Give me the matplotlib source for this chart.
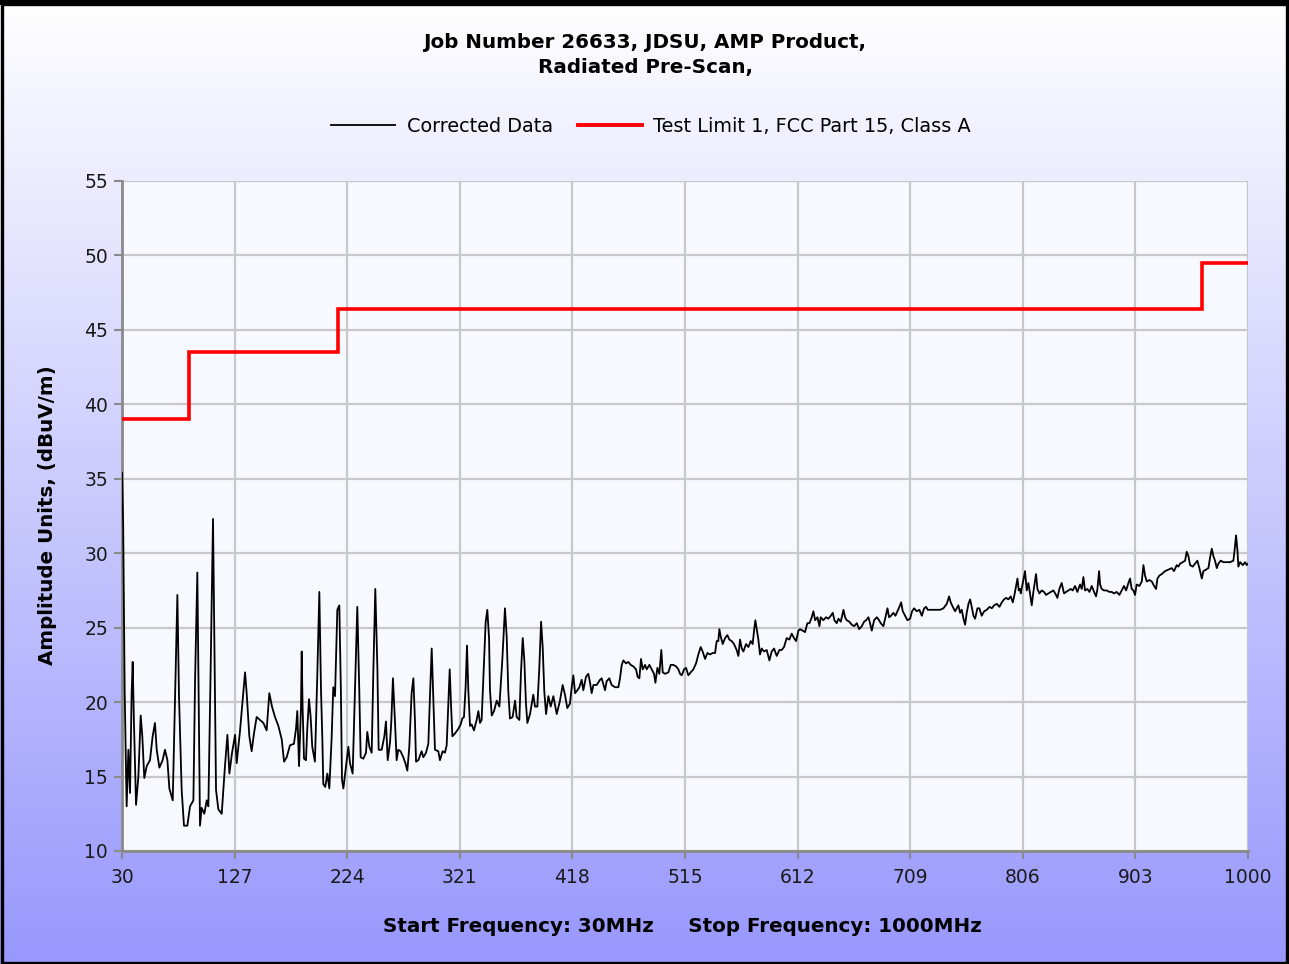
import numpy as np
import matplotlib
matplotlib.use("Agg")
import matplotlib.pyplot as plt
from matplotlib.colors import LinearSegmentedColormap
from matplotlib.lines import Line2D
from matplotlib.patches import Rectangle

# ---------------- data ----------------
title_lines = ["Job Number 26633, JDSU, AMP Product,", "Radiated Pre-Scan,"]
series_names = ["Corrected Data", "Test Limit 1, FCC Part 15, Class A"]
y_label = "Amplitude Units, (dBuV/m)"
x_label = "Start Frequency: 30MHz     Stop Frequency: 1000MHz"
x_ticks = [30, 127, 224, 321, 418, 515, 612, 709, 806, 903, 1000]
y_ticks = [10, 15, 20, 25, 30, 35, 40, 45, 50, 55]

freq = [
    30.0, 31.0, 32.3, 34.0, 35.5, 36.9, 38.3, 39.2, 40.3, 42.1, 44.1, 46.1, 47.5, 49.2,
    51.3, 54.1, 56.4, 58.4, 59.9, 62.2, 65.0, 67.0, 69.1, 70.8, 73.7, 75.7, 77.7, 79.1,
    80.5, 81.4, 83.4, 86.3, 88.6, 91.5, 92.9, 94.9, 96.1, 97.2, 98.6, 100.9, 103.0, 104.4,
    106.4, 108.4, 109.8, 111.0, 113.0, 115.9, 118.7, 120.8, 122.5, 124.8, 127.4, 128.8,
    131.7, 134.5, 136.0, 137.4, 139.7, 141.7, 143.7, 146.0, 148.9, 151.8, 154.6, 156.9,
    159.2, 161.8, 164.7, 167.6, 169.6, 171.9,
    174.7, 178.1, 179.9, 181.0, 182.5, 184.2, 184.8, 185.6, 186.8, 188.5, 189.6, 191.1,
    192.5, 193.9, 196.2, 198.2, 200.0, 201.4, 202.6, 203.4, 205.1, 206.9, 208.6, 210.6,
    212.0, 213.5, 215.5, 217.2, 218.6, 219.5, 220.7, 223.0, 225.0, 226.4, 228.7, 230.7,
    232.7, 234.4, 235.6, 237.9, 240.2, 241.3, 243.1, 245.1, 246.5, 248.2, 250.0, 251.1,
    253.7, 256.0, 257.4, 258.9, 260.9, 262.0, 263.4, 265.2, 266.6, 268.0, 270.0, 272.3,
    274.1, 275.8, 277.5, 279.5, 281.0, 282.4, 283.3, 285.3, 288.1, 289.6, 291.9, 293.9,
    295.3, 296.8, 298.2, 299.6, 302.5, 303.9, 306.2, 308.2, 309.7, 311.1, 312.3, 313.4,
    314.6, 316.9, 319.7, 321.7, 323.2, 324.6, 326.0, 327.2, 328.3, 329.8, 331.2, 333.2,
    335.5, 337.0, 338.4, 339.8, 341.3, 343.3, 344.7, 346.2, 347.0, 348.5, 350.5, 352.8,
    355.1, 357.6, 359.9, 361.4, 362.8, 364.2, 366.5, 368.6, 370.0, 372.3, 373.7, 375.2,
    376.6, 378.0, 379.2, 381.5, 384.3, 385.8, 387.8, 389.5, 391.0, 392.4, 393.8, 395.3,
    397.3, 399.3, 401.6, 404.5, 407.3,
    409.6, 411.6, 413.6, 415.9, 417.4, 418.8, 420.3, 422.3, 424.0, 426.0, 427.4, 429.7,
    431.7, 433.2, 434.6, 436.1, 438.9, 441.8, 443.2, 446.1, 447.5, 449.8, 451.8, 454.7,
    457.6, 459.0, 460.5, 461.9, 464.2, 466.2, 468.2, 470.5, 472.8, 474.2, 475.7, 477.1,
    478.6, 480.6, 482.0, 484.3, 486.3, 488.3, 489.5, 491.2, 492.9, 494.6, 495.8, 497.8,
    500.7, 502.7, 505.0, 507.3, 509.3, 510.7, 512.2, 514.2, 515.9, 517.9, 519.9, 522.2,
    524.5, 526.5, 528.5, 530.2, 532.3, 534.3, 536.6, 538.9, 540.9, 542.3, 543.7, 544.6,
    545.8, 547.5, 549.5, 551.5, 553.2, 555.2, 557.2, 559.5, 561.0, 562.4, 563.9, 565.3,
    567.6, 569.6, 571.6, 573.3, 574.5, 575.6, 576.8, 578.2, 579.6, 581.1, 583.1, 585.4,
    587.7, 589.7, 591.7, 594.0, 596.3, 598.3, 600.3, 602.6, 604.9, 606.9, 608.9, 610.7,
    612.7, 614.1,
    616.4, 618.4, 620.4, 622.2, 624.2, 625.6, 627.1, 629.1, 630.8, 631.9, 634.2, 636.5,
    638.5, 640.6, 642.3, 643.7, 645.7, 647.2, 649.2, 651.5, 652.9, 654.3, 656.6, 658.6,
    660.7, 663.0, 665.0, 667.3, 669.3, 671.0, 673.0, 674.4, 675.9, 677.9, 680.2, 682.2,
    683.6, 685.9, 687.7, 689.4, 690.8, 692.5, 694.5, 696.3, 698.0, 699.7, 701.2, 702.6,
    704.6, 706.6, 708.9, 710.6, 712.4, 714.6, 716.9, 719.0, 721.0, 722.7, 724.1, 726.1,
    729.0, 731.9, 734.8, 737.6, 740.5, 742.5, 743.9, 745.7, 747.7, 749.1, 750.5, 752.0,
    753.4, 754.9, 756.3, 757.7, 759.2, 760.6, 762.0, 763.5, 764.9, 766.9, 768.6, 770.6,
    772.7, 775.0, 777.3, 779.3, 781.3, 783.6, 785.9, 787.9, 789.9, 791.6, 793.6, 795.6,
    797.4, 798.8, 800.2, 801.4, 802.5, 803.7,
    804.2, 806.5, 807.9, 809.4, 810.8, 812.2, 813.7, 815.1, 816.6, 817.4, 818.6, 820.3,
    822.3, 824.3, 826.0, 828.0, 830.1, 832.4, 834.6, 835.8, 837.5, 839.5, 841.5, 843.3,
    845.3, 847.3, 849.0, 851.0, 853.0, 855.3, 856.8, 858.2, 859.6, 861.6, 863.4, 865.4,
    867.4, 869.1, 870.3, 871.7, 872.6, 874.0, 876.0, 878.3, 880.6, 882.6, 884.6, 886.9,
    889.2, 891.2, 893.2, 895.0, 897.0, 898.4, 899.8, 901.3, 902.7, 904.1, 906.4, 908.5,
    909.9, 911.3, 912.8, 915.1, 917.1, 919.1, 920.8, 922.0, 923.7, 925.7, 928.6, 931.4,
    934.3, 936.3, 938.6, 940.0, 941.5, 943.8, 945.8, 947.2, 948.7, 950.1, 952.4, 954.4,
    956.4, 958.1, 960.2, 961.6, 963.9, 965.9, 967.3, 968.8, 970.2, 971.6, 973.1, 974.5,
    976.5, 978.8, 981.7, 984.6, 987.4, 988.6, 989.7, 990.9, 991.7, 993.2, 995.5, 997.5,
    998.9, 1000.0,
]

amplitude = [
    35.4, 32.0, 20.7, 13.0, 16.8, 13.9, 20.6, 22.7, 18.6, 13.1, 15.0, 19.1, 17.7, 14.9,
    15.7, 16.1, 17.7, 18.6, 16.8, 15.6, 16.1, 16.8, 16.1, 14.2, 13.4, 20.4, 27.2, 20.4,
    16.6, 14.1, 11.7, 11.7, 13.0, 13.4, 21.3, 28.7, 20.1, 11.7, 12.9, 12.5, 13.4, 13.0,
    22.4, 32.3, 22.5, 14.1, 12.8, 12.5, 15.7, 17.8, 15.2, 16.6, 17.8, 15.9,
    18.1, 20.6, 22.0, 20.6, 17.7, 16.7, 17.9, 19.0, 18.8, 18.6, 18.1, 20.6,
    19.7, 19.0, 18.4, 17.5, 16.0, 16.3,
    17.1, 17.2, 18.2, 19.4, 15.7, 19.7, 23.4, 19.6, 16.2, 16.1, 18.2, 20.2,
    19.0, 17.0, 16.0, 21.7, 27.4, 20.9, 17.5, 14.5, 14.3, 15.2, 14.2, 17.6,
    21.0, 20.4, 26.2, 26.5, 20.6, 14.8, 14.2, 15.7, 17.0, 15.9, 15.2, 20.9,
    26.4, 20.8, 16.3, 16.2, 16.6, 18.0, 17.0, 16.6, 22.0, 27.6, 22.3, 16.8,
    16.8, 17.7, 18.7, 16.1, 17.3, 18.7, 21.6, 18.6, 16.1, 16.8, 16.7, 16.3,
    15.9, 15.4, 17.0, 20.6, 21.6, 18.7, 16.0, 16.1, 16.7, 16.3, 16.6, 17.2,
    20.4, 23.6, 20.1, 16.8, 16.7, 16.1, 16.7, 16.6, 17.1, 19.9, 22.2, 19.9,
    17.7, 17.9, 18.2, 18.5, 18.9, 19.0, 21.0, 23.8, 20.9, 18.4, 18.5, 18.1,
    18.8, 19.4, 18.6, 18.8, 21.7, 25.4, 26.2, 24.3, 20.8, 19.1, 19.4, 20.1,
    19.7, 22.8, 26.3, 24.4, 20.7, 18.9, 19.0, 20.1, 19.0, 18.8, 22.0, 24.3,
    22.8, 19.9, 18.6, 19.2, 20.5, 19.7, 19.7, 22.3, 25.4, 23.7, 20.7, 19.2,
    20.4, 19.7, 20.4, 19.2, 20.1,
    21.15, 20.5, 19.6, 19.9, 21.0, 21.8, 20.6, 20.8, 21.0, 21.5, 20.8, 21.7,
    21.9, 21.3, 20.6, 21.15, 21.15, 21.5, 21.6, 20.8, 21.4, 21.6, 21.15, 21.0,
    21.0, 21.6, 22.5, 22.8, 22.6, 22.7, 22.5, 22.4, 22.2, 21.7, 21.6, 22.9,
    22.2, 22.5, 22.2, 22.5, 22.2, 21.9, 21.3, 22.3, 21.9, 23.5, 22.0, 21.9,
    22.0, 22.5, 22.5, 22.4, 22.2, 21.9, 21.8, 22.2, 22.3, 21.8, 22.0, 22.2,
    22.6, 23.2, 23.7, 23.4, 22.9, 23.3, 23.2, 23.3, 23.3, 24.1, 24.1, 24.9,
    24.4, 23.9, 24.3, 24.5, 24.2, 24.1, 23.9, 23.5, 23.1, 24.2, 23.6, 23.4,
    23.9, 23.7, 24.1, 23.9, 24.8, 25.5, 24.9, 24.2, 23.2, 23.6, 23.4, 23.5,
    22.8, 23.4, 23.6, 23.1, 23.5, 23.5, 23.7, 24.3, 24.2, 24.6, 24.3, 24.1,
    24.8, 24.9,
    24.8, 24.7, 25.3, 25.3, 25.7, 26.1, 25.5, 25.7, 25.1, 25.7, 25.5, 25.7,
    25.6, 25.8, 26.0, 25.5, 25.3, 25.6, 25.4, 26.2, 25.7, 25.5, 25.4, 25.2,
    25.1, 25.3, 24.9, 25.1, 25.4, 25.5, 25.7, 25.3, 24.8, 25.5, 25.7, 25.5,
    25.3, 25.1, 25.7, 26.3, 25.7, 25.8, 26.0, 25.8, 26.1, 26.4, 26.7, 26.1,
    25.8, 25.5, 25.6, 26.1, 26.3, 26.1, 26.2, 25.8, 26.3, 26.4, 26.2, 26.2,
    26.2, 26.2, 26.2, 26.3, 26.6, 27.1, 26.7, 26.4, 26.1, 26.3, 26.5, 26.0,
    26.2, 25.6, 25.2, 26.0, 26.6, 26.9, 26.4, 25.8, 25.6, 26.3, 26.3, 25.8,
    26.1, 26.2, 26.4, 26.3, 26.5, 26.6, 26.4, 26.7, 26.9, 27.0, 26.9, 27.1,
    26.7, 27.2, 27.8, 28.3, 27.5, 27.6,
    27.3, 28.2, 28.8, 27.5, 28.0, 27.3, 26.5, 27.4, 28.2, 28.6, 27.6, 27.3,
    27.5, 27.4, 27.2, 27.3, 27.4, 27.5, 27.2, 27.0, 27.6, 28.0, 27.3, 27.4,
    27.5, 27.6, 27.5, 27.8, 27.4, 27.9, 27.6, 28.4, 27.5, 27.6, 27.4, 27.8,
    27.4, 27.1, 27.6, 28.8, 27.9, 27.6, 27.5, 27.5, 27.4, 27.4, 27.3, 27.4,
    27.2, 27.5, 27.8, 27.5, 28.0, 28.3, 27.6, 27.5, 27.2, 27.9, 27.8, 28.1,
    29.2, 28.5, 28.1, 28.2, 28.1, 27.8, 27.6, 28.3, 28.5, 28.6, 28.8, 28.9,
    29.0, 28.8, 29.2, 29.1, 29.3, 29.4, 29.5, 30.1, 29.8, 29.2, 29.1, 29.3,
    29.5, 29.0, 28.3, 28.8, 28.9, 29.0, 29.7, 30.3, 29.8, 29.5, 29.0, 29.3,
    29.5, 29.4, 29.4, 29.4, 29.5, 30.3, 31.2, 30.2, 29.1, 29.4, 29.2, 29.4,
    29.2, 29.3,
]

limit_freq = [30, 88, 88, 216, 216, 960, 960, 1000]
limit_level = [39.0, 39.0, 43.5, 43.5, 46.4, 46.4, 49.5, 49.5]

# ---------------- figure ----------------
W, H = 1289, 964
fig = plt.figure(figsize=(W / 100, H / 100), dpi=100)

# background gradient (white at top to periwinkle at bottom)
bg = fig.add_axes([0, 0, 1, 1], zorder=-10)
cmap = LinearSegmentedColormap.from_list("bgc", ["#ffffff", "#9898fd"])
grad = np.linspace(0, 1, 256).reshape(-1, 1)
bg.imshow(grad, aspect="auto", cmap=cmap, extent=[0, 1, 0, 1], origin="upper")
bg.set_axis_off()

# outer border
fig.patches.append(Rectangle((1.5 / W, 1.5 / H), 1 - 3.5 / W, 1 - 5 / H,
                             transform=fig.transFigure, fill=False,
                             edgecolor="black", linewidth=2.4, zorder=10))
fig.patches.append(Rectangle((0, 1 - 5 / H), 1, 5 / H, transform=fig.transFigure,
                             facecolor="black", edgecolor="none", zorder=10))

L, R, T, B = 122, 1248, 181, 851
ax = fig.add_axes([L / W, 1 - B / H, (R - L) / W, (B - T) / H])
ax.set_facecolor("#f8f8ff")

ax.plot(freq, amplitude, color="black", linewidth=1.3, zorder=3)
ax.plot(limit_freq, limit_level, color="#ff0000", linewidth=2.6, zorder=4,
        solid_joinstyle="miter")

ax.set_xlim(30, 1000)
ax.set_ylim(10, 55)
ax.set_xticks(x_ticks)
ax.set_yticks(y_ticks)
ax.grid(True, color="#c8c8c8", linewidth=1.6, zorder=0)
ax.set_axisbelow(True)
for s in ["top", "right"]:
    ax.spines[s].set_visible(False)
for s in ["left", "bottom"]:
    ax.spines[s].set_color("#8a8a8a")
    ax.spines[s].set_linewidth(2)
ax.tick_params(axis="both", direction="out", length=6, width=1.5, color="#8a8a8a",
               labelsize=13.5, labelcolor="#1a1a1a")
ax.tick_params(axis="x", pad=6)
ax.tick_params(axis="y", pad=4)

# titles
fig.text(645 / W, 1 - 42 / H, title_lines[0], ha="center", va="center",
         fontsize=14.3, fontweight="bold", color="black")
fig.text(645 / W, 1 - 68 / H, title_lines[1], ha="center", va="center",
         fontsize=14.3, fontweight="bold", color="black")

# legend
handles = [Line2D([], [], color="black", linewidth=1.3),
           Line2D([], [], color="#ff0000", linewidth=2.8)]
fig.legend(handles, series_names, loc="center", bbox_to_anchor=(651 / W, 1 - 126 / H),
           ncol=2, frameon=False, fontsize=13.9, handlelength=3.3, columnspacing=1.3,
           handletextpad=0.6)

fig.text(48 / W, 1 - 515 / H, y_label, rotation=90, ha="center", va="center",
         fontsize=14.3, fontweight="bold", color="black")
fig.text(682 / W, 1 - 926 / H, x_label, ha="center", va="center",
         fontsize=14.3, fontweight="bold", color="black")

fig.savefig("out.png", dpi=100)
